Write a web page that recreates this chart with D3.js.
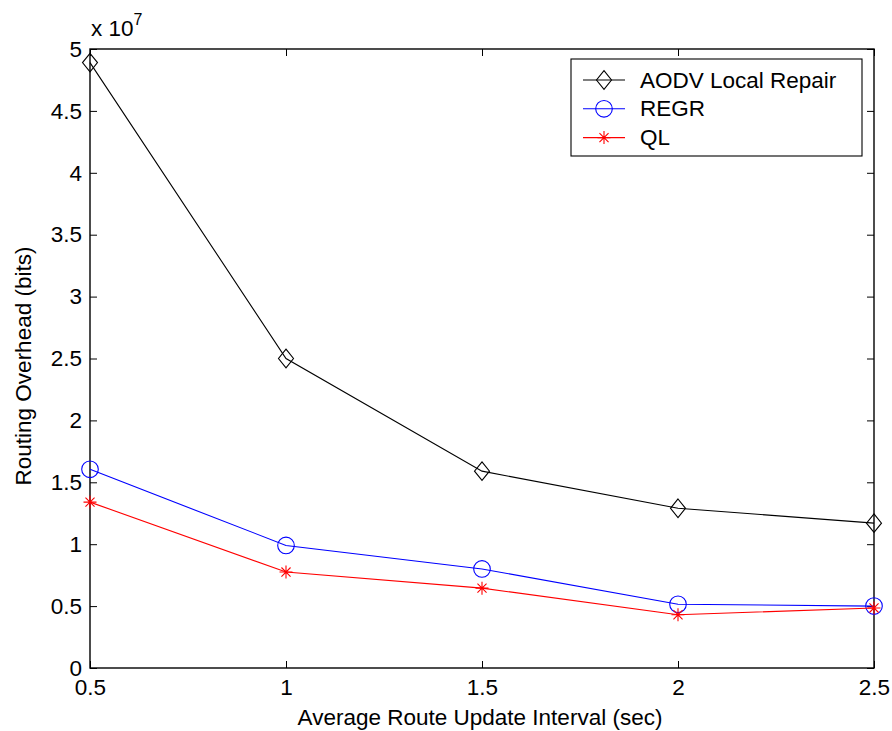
<!DOCTYPE html>
<html>
<head>
<meta charset="utf-8">
<script src="https://cdn.jsdelivr.net/npm/d3@7"></script>
<style>
  html, body { margin: 0; padding: 0; background: #fff; }
  svg { display: block; font-family: "Liberation Sans", Arial, Helvetica, sans-serif; }
</style>
</head>
<body>
<svg id="chart" width="892" height="731"></svg>
<script>
// Average route update interval (sec)
const intervals = [0.5, 1.0, 1.5, 2.0, 2.5];
// Routing overhead, in units of 10^7 bits
const aodvLocalRepair = [4.89, 2.50, 1.59, 1.29, 1.17];
const regr = [1.605, 0.99, 0.80, 0.515, 0.50];
const ql = [1.34, 0.775, 0.645, 0.43, 0.485];

const xTicks = [0.5, 1, 1.5, 2, 2.5];
const yTicks = [0, 0.5, 1, 1.5, 2, 2.5, 3, 3.5, 4, 4.5, 5];

const seriesNames = ["AODV Local Repair", "REGR", "QL"];
const seriesValues = [aodvLocalRepair, regr, ql];
const seriesColors = ["#000000", "#0000ff", "#ff0000"];
const seriesMarkers = ["diamond", "circle", "star"];

const svg = d3.select("#chart");
const plotLeft = 90, plotRight = 874, plotTop = 49, plotBottom = 668;

const x = d3.scaleLinear().domain([0.5, 2.5]).range([plotLeft, plotRight]);
const y = d3.scaleLinear().domain([0, 5]).range([plotBottom, plotTop]);

const tickLen = 7;
const fontSize = 22.5;

// Axes box
svg.append("rect")
  .attr("x", plotLeft).attr("y", plotTop)
  .attr("width", plotRight - plotLeft).attr("height", plotBottom - plotTop)
  .attr("fill", "none").attr("stroke", "#000").attr("stroke-width", 1.4);

// Bottom axis (ticks point inward)
const xAxis = d3.axisBottom(x).tickValues(xTicks).tickSize(-tickLen).tickPadding(11)
  .tickFormat(d3.format("~g"));
const gx = svg.append("g").attr("transform", `translate(0,${plotBottom})`).call(xAxis);
const xAxisTop = d3.axisTop(x).tickValues(xTicks).tickSize(-tickLen).tickFormat("");
const gxt = svg.append("g").attr("transform", `translate(0,${plotTop})`).call(xAxisTop);

// Left axis
const yAxis = d3.axisLeft(y).tickValues(yTicks).tickSize(-tickLen).tickPadding(8)
  .tickFormat(d3.format("~g"));
const gy = svg.append("g").attr("transform", `translate(${plotLeft},0)`).call(yAxis);
const yAxisRight = d3.axisRight(y).tickValues(yTicks).tickSize(-tickLen).tickFormat("");
const gyr = svg.append("g").attr("transform", `translate(${plotRight},0)`).call(yAxisRight);

[gx, gxt, gy, gyr].forEach(g => {
  g.select(".domain").remove();
  g.selectAll(".tick line").attr("stroke", "#000").attr("stroke-width", 1);
  g.selectAll(".tick text").attr("fill", "#000").attr("font-size", fontSize)
    .attr("font-family", "Liberation Sans, Arial, sans-serif");
});

// Exponent label
const expo = svg.append("text").attr("x", plotLeft + 1).attr("y", plotTop - 13)
  .attr("font-size", fontSize).attr("fill", "#000");
expo.append("tspan").text("x 10");
expo.append("tspan").attr("dy", -11).attr("font-size", 16).text("7");

// Axis titles
svg.append("text")
  .attr("x", 480).attr("y", 725)
  .attr("text-anchor", "middle").attr("font-size", fontSize).attr("fill", "#000")
  .text("Average Route Update Interval (sec)");
svg.append("text")
  .attr("transform", `translate(31,366) rotate(-90)`)
  .attr("text-anchor", "middle").attr("font-size", fontSize).attr("fill", "#000")
  .text("Routing Overhead (bits)");

// Marker drawing
function drawMarker(g, type, cx, cy, color) {
  if (type === "diamond") {
    const rx = 7.5, ry = 9.3;
    g.append("path")
      .attr("d", `M${cx},${cy - ry}L${cx + rx},${cy}L${cx},${cy + ry}L${cx - rx},${cy}Z`)
      .attr("fill", "none").attr("stroke", color).attr("stroke-width", 1.1);
  } else if (type === "circle") {
    g.append("circle").attr("cx", cx).attr("cy", cy).attr("r", 8.3)
      .attr("fill", "none").attr("stroke", color).attr("stroke-width", 1.1);
  } else if (type === "star") {
    const r = 6.5;
    const d = `M${cx - r},${cy}L${cx + r},${cy}` +
      `M${cx},${cy - r}L${cx},${cy + r}` +
      `M${cx - r * 0.7},${cy - r * 0.7}L${cx + r * 0.7},${cy + r * 0.7}` +
      `M${cx - r * 0.7},${cy + r * 0.7}L${cx + r * 0.7},${cy - r * 0.7}`;
    g.append("path").attr("d", d).attr("fill", "none").attr("stroke", color).attr("stroke-width", 1.1);
  }
}

const line = d3.line().x(d => x(d[0])).y(d => y(d[1]));

seriesValues.forEach((vals, i) => {
  const pts = intervals.map((t, j) => [t, vals[j]]);
  const g = svg.append("g");
  g.append("path").datum(pts).attr("d", line)
    .attr("fill", "none").attr("stroke", seriesColors[i]).attr("stroke-width", 1.1);
  pts.forEach(p => drawMarker(g, seriesMarkers[i], x(p[0]), y(p[1]), seriesColors[i]));
});

// Legend
const lg = svg.append("g");
const lx = 571, ly = 59, lw = 291, lh = 97;
lg.append("rect").attr("x", lx).attr("y", ly).attr("width", lw).attr("height", lh)
  .attr("fill", "#fff").attr("stroke", "#000").attr("stroke-width", 1.1);
seriesNames.forEach((name, i) => {
  const cy = ly + 21 + i * 28.8;
  lg.append("line").attr("x1", lx + 12).attr("x2", lx + 54).attr("y1", cy).attr("y2", cy)
    .attr("stroke", seriesColors[i]).attr("stroke-width", 1.1);
  drawMarker(lg, seriesMarkers[i], lx + 33, cy, seriesColors[i]);
  lg.append("text").attr("x", lx + 69).attr("y", cy + 7.5)
    .attr("font-size", fontSize).attr("fill", "#000").text(name);
});
</script>
</body>
</html>
